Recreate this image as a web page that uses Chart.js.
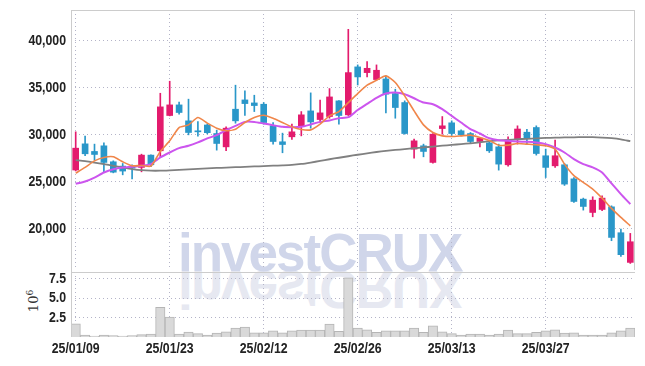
<!DOCTYPE html>
<html>
<head>
<title>investCRUX price chart</title>
<script src="https://cdn.jsdelivr.net/npm/chart.js"></script>
<style>
    body {
        margin: 0;
        background: #fff;
        width: 645px;
        height: 366px;
        overflow: hidden;
        position: relative;
    }
    canvas { position: absolute; left: 0; }
    #priceChart { top: 0; }
    #volChart { top: 272px; }
    .mark {
        position: absolute;
        left: 178px;
        top: 226px;
        font: bold 53px 'Liberation Sans', Arial, sans-serif;
        line-height: 53px;
        letter-spacing: -2px;
        color: #d0d6ea;
        white-space: nowrap;
    }
    .mark.flip {
        color: #e6e8f1;
        transform-origin: 0 45px;
        transform: scaleY(-1);
    }
    .unit {
        position: absolute;
        left: 33px;
        top: 301px;
        transform: translate(-50%, -50%) rotate(-90deg);
        font: 13px 'DejaVu Serif', serif;
        color: #333;
        white-space: nowrap;
    }
    .unit sup { font-size: 9px; }
</style>
</head>
<body>
<div class="mark flip">investCRUX</div>
<div class="mark">investCRUX</div>
<div class="unit">10<sup>6</sup></div>
<canvas id="priceChart" width="645" height="272"></canvas>
<canvas id="volChart" width="645" height="94"></canvas>

<script>
// trading days shown on the chart
var dates = ['25/01/09','25/01/10','25/01/13','25/01/14','25/01/15','25/01/16','25/01/17','25/01/20','25/01/21','25/01/22',
    '25/01/23','25/01/24','25/01/31','25/02/03','25/02/04','25/02/05','25/02/06','25/02/07','25/02/10','25/02/11',
    '25/02/12','25/02/13','25/02/14','25/02/17','25/02/18','25/02/19','25/02/20','25/02/21','25/02/24','25/02/25',
    '25/02/26','25/02/27','25/02/28','25/03/04','25/03/05','25/03/06','25/03/07','25/03/10','25/03/11','25/03/12',
    '25/03/13','25/03/14','25/03/17','25/03/18','25/03/19','25/03/20','25/03/21','25/03/24','25/03/25','25/03/26',
    '25/03/27','25/03/28','25/03/31','25/04/01','25/04/02','25/04/03','25/04/04','25/04/07','25/04/08','25/04/09'];

var opens = [26250,29040,28230,28830,27130,26670,26600,26530,27840,28300,
    32060,33190,31490,30430,31050,30140,28720,32730,33720,33400,
    33260,30960,29260,29790,30920,32550,31630,31950,33620,32130,
    37240,36630,35890,35960,34400,33440,28480,28830,27060,30670,
    31280,30430,30140,29290,29150,28720,26810,29540,30280,30780,
    27770,26700,26810,25310,23150,21730,22050,22330,19570,16410];
var closes = [28580,27980,27910,27060,26020,26140,26450,27840,26810,32980,
    33190,32380,30250,30320,30230,29080,30710,31490,33330,33120,
    31310,29290,28970,30320,32130,31380,32340,34040,32060,36630,
    36170,37090,36880,34330,32910,30140,29360,28230,30070,30960,
    30140,30000,29290,29650,28300,26880,29430,30620,29650,28010,
    26530,27770,24750,22900,22370,23040,23260,19070,17230,18610];
var highs = [30320,29860,29010,29150,27230,26950,26810,27940,27870,34430,
    35710,33480,33800,31420,31150,30500,30850,35290,34680,34220,
    33440,31310,30180,31140,32480,34470,33690,34930,33650,41240,
    37450,37800,37450,36280,34860,33620,29540,29010,30140,31950,
    31490,30530,30250,29720,29360,29010,29790,30960,30600,30960,
    28480,29430,26950,25450,23260,23400,23500,22440,19960,19500];
var lows = [26150,27770,27310,26020,25950,25740,25310,26060,26600,27590,
    32020,32200,30000,29860,30100,28370,28300,31240,32060,32480,
    31140,29010,28090,29500,29890,30710,31310,31770,31140,32060,
    35310,36170,35820,32340,31770,30070,27520,27660,26990,30070,
    29930,29890,29150,28720,28120,26240,26670,29010,28940,27840,
    25450,26530,24610,22790,21980,21270,21910,18720,17050,16300];

// moving averages as drawn
var ma5 = [25920,26530,27230,27590,27660,27130,26700,26740,26670,28230,
    29360,30780,31060,31840,31250,30710,30430,30600,31310,31840,
    32090,31770,31310,30850,30570,30530,31140,32020,32480,33440,
    34400,35290,35820,36280,35570,34150,32550,31060,30250,29890,
    29820,29890,29970,29720,29400,28900,28900,29080,29010,28940,
    28830,28480,26880,25650,24930,24220,23260,22160,21200,20310];
var ma20 = [24780,25030,25450,25990,26340,26530,26600,26700,26880,27590,
    28120,28580,28830,29190,29620,29970,30500,30960,31380,31380,
    31210,31030,30850,30820,30850,31100,31380,31530,31780,31880,
    32650,33300,33950,34400,34500,34330,33900,33440,33260,32730,
    32020,31310,30600,30140,29640,29430,29360,29290,29260,29180,
    29010,28650,28120,27410,26880,26530,25990,24820,23690,22620];
var ma60 = [27300,27200,27050,26880,26700,26520,26350,26230,26180,26180,
    26220,26270,26320,26370,26420,26470,26510,26550,26590,26630,
    26670,26710,26750,26800,26900,27050,27220,27400,27560,27720,
    27880,28030,28170,28290,28390,28480,28570,28660,28750,28840,
    28930,29010,29100,29200,29320,29400,29470,29530,29580,29630,
    29670,29700,29720,29740,29750,29750,29710,29640,29520,29320];

// volume, millions of shares
var volume = [1.71,0.26,0.13,0.26,0.17,0.13,0.17,0.30,0.38,3.85,
    2.56,0.38,0.64,0.43,0.26,0.51,0.68,1.15,1.28,0.55,
    0.55,0.81,0.55,0.81,0.90,0.90,0.90,1.67,0.73,7.65,
    1.15,0.94,0.60,0.81,0.81,0.81,1.15,0.60,1.45,0.68,
    0.43,0.26,0.38,0.38,0.26,0.38,0.90,0.43,0.43,0.60,
    0.81,0.94,0.51,0.55,0.26,0.26,0.26,0.55,0.81,1.15];

var priceTicks = [20000, 25000, 30000, 35000, 40000];
var volTicks = [2.5, 5, 7.5];

var UP = '#e31b6d', DOWN = '#2a97c9';
var gridColor = '#b4b4c8';
var frameColor = '#cccccc';
var labelFont = "bold 15px 'Liberation Sans', Arial, sans-serif";
var NARROW = 0.82;   // squeeze labels like a narrow face

var candleColors = closes.map(function(c, i) { return c >= opens[i] ? UP : DOWN; });

function vGrid(ctx) {
    return ctx.index % 10 === 0 ? gridColor : 'rgba(0,0,0,0)';
}

function narrowText(c, text, x, y, align) {
    c.save();
    c.translate(x, y);
    c.scale(NARROW, 1);
    c.textAlign = align;
    c.textBaseline = 'middle';
    c.fillText(text, 0, 0);
    c.restore();
}

// frame lines + axis labels drawn through the chart's own scales
function decorPlugin(cfg) {
    return {
        id: 'decor',
        afterDraw: function(chart) {
            var c = chart.ctx, a = chart.chartArea;
            c.save();
            c.strokeStyle = frameColor;
            c.lineWidth = 1;
            c.beginPath();
            c.moveTo(a.left, a.top + 0.5); c.lineTo(a.right, a.top + 0.5);
            c.moveTo(a.left + 0.5, a.top); c.lineTo(a.left + 0.5, a.bottom + (cfg.extend || 0));
            if (cfg.right) { c.moveTo(a.right - 0.5, a.top); c.lineTo(a.right - 0.5, a.bottom); }
            c.stroke();

            c.fillStyle = '#222';
            c.font = labelFont;
            var ys = chart.scales.y;
            cfg.yTicks.forEach(function(v) {
                narrowText(c, cfg.yFormat(v), a.left - 5, ys.getPixelForValue(v), 'right');
            });
            if (cfg.dates) {
                var xs = chart.scales.x;
                dates.forEach(function(d, i) {
                    if (i % 10 === 0) narrowText(c, d, xs.getPixelForValue(i), a.bottom + 12, 'center');
                });
            }
            c.restore();
        }
    };
}

new Chart(document.getElementById('priceChart'), {
    type: 'bar',
    data: {
        labels: dates,
        datasets: [
            { type: 'line', data: ma5, borderColor: '#f0864a', borderWidth: 1.6, pointRadius: 0, tension: 0.2, order: 0 },
            { type: 'line', data: ma20, borderColor: '#cc55ee', borderWidth: 2, pointRadius: 0, tension: 0.2, order: 0 },
            { type: 'line', data: ma60, borderColor: '#808080', borderWidth: 1.8, pointRadius: 0, tension: 0.2, order: 0 },
            { data: lows.map(function(l, i) { return [l, highs[i]]; }), backgroundColor: candleColors,
              barThickness: 1, grouped: false, order: 2 },
            { data: opens.map(function(o, i) { return [o, closes[i]]; }), backgroundColor: candleColors,
              barThickness: 6, grouped: false, order: 1 }
        ]
    },
    options: {
        responsive: false,
        animation: false,
        layout: { autoPadding: false, padding: { top: 10, right: 10, bottom: 2, left: 0 } },
        plugins: { legend: { display: false }, tooltip: { enabled: false } },
        scales: {
            x: {
                offset: true,
                afterFit: function(s) { s.height = 0; },
                ticks: { display: false, autoSkip: false },
                grid: { offset: false, drawTicks: false, color: vGrid },
                border: { display: false, dash: [1, 3] }
            },
            y: {
                min: 15600,
                max: 43300,
                afterFit: function(s) { s.width = 71; },
                afterBuildTicks: function(s) { s.ticks = priceTicks.map(function(v) { return { value: v }; }); },
                ticks: { display: false },
                grid: { drawTicks: false, color: gridColor },
                border: { display: false, dash: [1, 3] }
            }
        }
    },
    plugins: [decorPlugin({
        right: true, extend: 2, yTicks: priceTicks,
        yFormat: function(v) { return v.toLocaleString('en-US'); }
    })]
});

new Chart(document.getElementById('volChart'), {
    type: 'bar',
    data: {
        labels: dates,
        datasets: [{
            data: volume,
            backgroundColor: '#d9d9d9',
            borderColor: '#b5b5b5',
            borderWidth: 1,
            barPercentage: 1,
            categoryPercentage: 1
        }]
    },
    options: {
        responsive: false,
        animation: false,
        layout: { autoPadding: false, padding: { top: 0, right: 10, bottom: 0, left: 0 } },
        plugins: { legend: { display: false }, tooltip: { enabled: false } },
        scales: {
            x: {
                offset: true,
                afterFit: function(s) { s.height = 29; },
                ticks: { display: false, autoSkip: false },
                grid: { offset: false, drawTicks: false, color: vGrid },
                border: { display: false, dash: [1, 3] }
            },
            y: {
                min: 0,
                max: 8.4,
                afterFit: function(s) { s.width = 71; },
                afterBuildTicks: function(s) { s.ticks = volTicks.map(function(v) { return { value: v }; }); },
                ticks: { display: false },
                grid: { drawTicks: false, color: gridColor },
                border: { display: false, dash: [1, 3] }
            }
        }
    },
    plugins: [decorPlugin({
        dates: true, yTicks: volTicks,
        yFormat: function(v) { return v.toFixed(1); }
    })]
});
</script>
</body>
</html>
